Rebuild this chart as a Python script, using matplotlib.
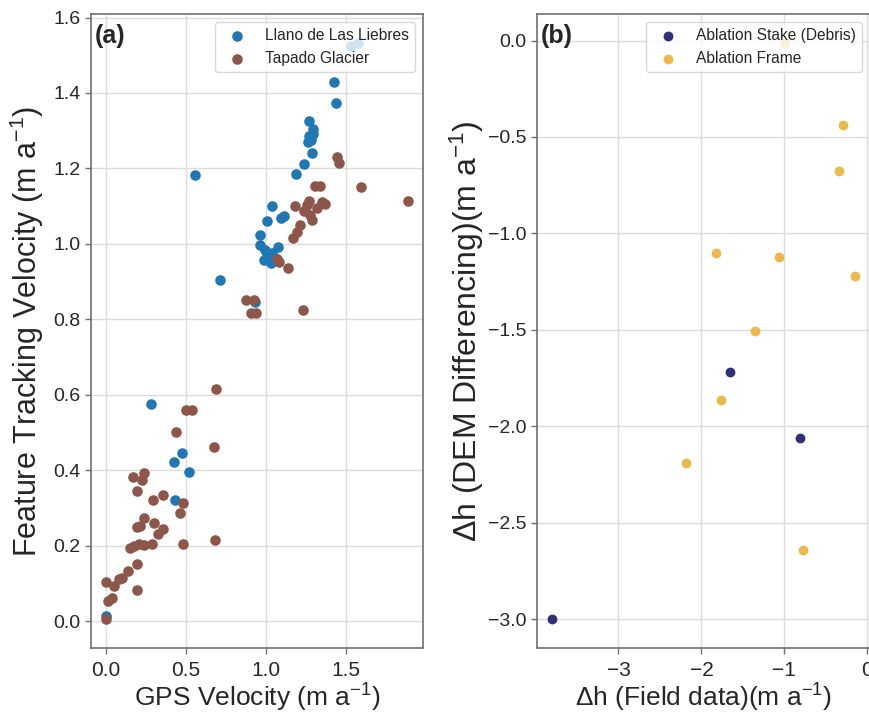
import numpy as np
import matplotlib
matplotlib.use('Agg')
import matplotlib.pyplot as plt

###
# Data.
###
# (a) GPS velocity vs feature tracking velocity
llano_gps = [0.554, 1.423, 1.439, 1.269, 1.294, 1.27, 1.28, 1.29, 1.26, 1.283,
             1.235, 1.187, 1.527, 1.575, 1.039, 1.11, 1.094, 1.006, 0.964,
             0.964, 1.073, 0.99, 0.985, 1.027, 1.006, 1.058, 1.037, 0.714,
             0.929, 0.279, 0.477, 0.423, 0.519, 0.429, 0.0]
llano_ft = [1.183, 1.430, 1.373, 1.326, 1.305, 1.285, 1.275, 1.29, 1.27, 1.242,
            1.211, 1.186, 1.525, 1.533, 1.101, 1.074, 1.068, 1.061, 1.024,
            0.997, 0.991, 0.983, 0.957, 0.949, 0.968, 0.962, 0.975, 0.904,
            0.846, 0.575, 0.446, 0.421, 0.394, 0.320, 0.013]

tapado_gps = [1.443, 1.454, 1.302, 1.339, 1.594, 1.885, 1.177, 1.266, 1.256,
              1.346, 1.366, 1.319, 1.235, 1.273, 1.288, 1.214, 1.194, 1.169,
              1.079, 1.069, 1.135, 0.875, 0.923, 0.902, 0.937, 1.229, 0.685,
              0.498, 0.537, 0.435, 0.671, 0.235, 0.225, 0.166, 0.191, 0.294,
              0.354, 0.479, 0.464, 0.239, 0.194, 0.214, 0.298, 0.356, 0.323,
              0.152, 0.173, 0.204, 0.235, 0.287, 0.479, 0.683, 0.194, 0.135,
              0.100, 0.083, 0.0, 0.048, 0.194, 0.037, 0.012, 0.0]
tapado_ft = [1.229, 1.215, 1.154, 1.154, 1.150, 1.114, 1.100, 1.114, 1.103,
             1.110, 1.107, 1.094, 1.087, 1.077, 1.063, 1.050, 1.032, 1.015,
             0.951, 0.959, 0.935, 0.850, 0.850, 0.816, 0.816, 0.825, 0.614,
             0.560, 0.560, 0.502, 0.461, 0.393, 0.375, 0.382, 0.344, 0.322,
             0.334, 0.313, 0.287, 0.274, 0.250, 0.251, 0.259, 0.245, 0.231,
             0.194, 0.200, 0.203, 0.201, 0.203, 0.203, 0.216, 0.150, 0.134,
             0.115, 0.112, 0.103, 0.093, 0.082, 0.062, 0.053, 0.005]

# (b) field data vs DEM differencing
stake_field = [-3.80, -1.66, -0.815]
stake_dem = [-3.00, -1.72, -2.063]

frame_field = [-0.99, -0.296, -0.34, -1.82, -1.06, -0.15, -1.36, -1.77,
               -2.18, -0.78]
frame_dem = [-0.012, -0.44, -0.677, -1.103, -1.12, -1.222, -1.506, -1.863,
             -2.19, -2.64]

###
# Styling
###
plt.rcParams['font.family'] = ['Liberation Sans', 'DejaVu Sans']
plt.rcParams['mathtext.default'] = 'regular'
plt.rcParams['axes.unicode_minus'] = True

text_col = '#262626'


def style_axes(ax):
    ax.set_axisbelow(True)
    ax.grid(True, color='#dcdcdc', linewidth=1.0)
    for sp in ax.spines.values():
        sp.set_color('#707070')
        sp.set_linewidth(1.2)
    ax.tick_params(axis='both', direction='out', length=4, width=1,
                   color='#707070', labelcolor=text_col)
    ax.tick_params(axis='y', labelsize=14)
    ax.tick_params(axis='x', labelsize=15, pad=5)


fig = plt.figure(figsize=(8.69, 7.16), dpi=100)
ax1 = fig.add_axes([91 / 869, 68 / 716, 332 / 869, 634 / 716])
ax2 = fig.add_axes([537 / 869, 68 / 716, 333 / 869, 634 / 716])

# panel (a)
ax1.scatter(llano_gps, llano_ft, s=58, color='#1f77b4', linewidths=0,
            label='Llano de Las Liebres', zorder=3)
ax1.scatter(tapado_gps, tapado_ft, s=58, color='#8c564b', linewidths=0,
            label='Tapado Glacier', zorder=3)
ax1.set_xticks([0.0, 0.5, 1.0, 1.5])
ax1.set_yticks(np.arange(0, 1.61, 0.2))
ax1.set_xlabel('GPS Velocity (m a$^{-1}$)', fontsize=19, color=text_col,
               labelpad=2)
ax1.set_ylabel('Feature Tracking Velocity (m a$^{-1}$)', fontsize=22,
               color=text_col)
ax1.yaxis.set_label_coords(-0.135, 0.5)
style_axes(ax1)
ax1.legend(loc='upper right', fontsize=11.2, framealpha=0.8,
           edgecolor='#d0d0d0', labelcolor=text_col)
ax1.text(0.012, 0.985, '(a)', transform=ax1.transAxes, fontsize=18,
         fontweight='bold', va='top', ha='left', color=text_col)

# panel (b)
ax2.scatter(stake_field, stake_dem, s=50, color='#2e3175', linewidths=0,
            label='Ablation Stake (Debris)', zorder=3)
ax2.scatter(frame_field, frame_dem, s=50, color='#ebb94b', linewidths=0,
            label='Ablation Frame', zorder=3)
ax2.set_xticks([-3, -2, -1, 0])
ax2.set_yticks(np.arange(-3.0, 0.01, 0.5))
ax2.set_xlabel('Δh (Field data)(m a$^{-1}$)', fontsize=19, color=text_col,
               labelpad=2)
ax2.set_ylabel('Δh (DEM Differencing)(m a$^{-1}$)', fontsize=23,
               color=text_col)
ax2.yaxis.set_label_coords(-0.153, 0.5)
style_axes(ax2)
ax2.legend(loc='upper right', fontsize=11.2, framealpha=0.8,
           edgecolor='#d0d0d0', labelcolor=text_col)
ax2.text(0.012, 0.985, '(b)', transform=ax2.transAxes, fontsize=18,
         fontweight='bold', va='top', ha='left', color=text_col)

fig.savefig('out.png', dpi=100)
